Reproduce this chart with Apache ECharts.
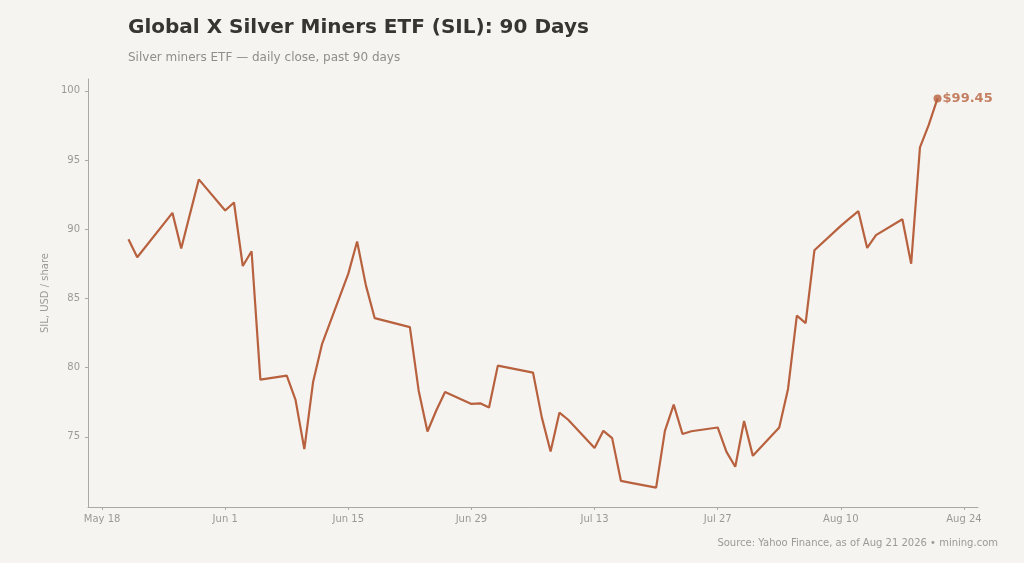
<!DOCTYPE html>
<html>
<head>
<meta charset="utf-8">
<title>SIL 90 days</title>
<script src="https://cdn.jsdelivr.net/npm/echarts@6/dist/echarts.min.js"></script>
<style>
  html, body { margin: 0; padding: 0; background: #f5f4f0; }
  #chart { width: 1024px; height: 563px; }
</style>
</head>
<body>
<div id="chart"></div>
<script>
// trading days (2026) and daily closes
var dates = [
  '2026-05-21', '2026-05-22', '2026-05-26', '2026-05-27', '2026-05-28', '2026-05-29',
  '2026-06-01', '2026-06-02', '2026-06-03', '2026-06-04', '2026-06-05',
  '2026-06-08', '2026-06-09', '2026-06-10', '2026-06-11', '2026-06-12',
  '2026-06-15', '2026-06-16', '2026-06-17', '2026-06-18',
  '2026-06-22', '2026-06-23', '2026-06-24', '2026-06-25', '2026-06-26',
  '2026-06-29', '2026-06-30', '2026-07-01', '2026-07-02',
  '2026-07-06', '2026-07-07', '2026-07-08', '2026-07-09', '2026-07-10',
  '2026-07-13', '2026-07-14', '2026-07-15', '2026-07-16', '2026-07-17',
  '2026-07-20', '2026-07-21', '2026-07-22', '2026-07-23', '2026-07-24',
  '2026-07-27', '2026-07-28', '2026-07-29', '2026-07-30', '2026-07-31',
  '2026-08-03', '2026-08-04', '2026-08-05', '2026-08-06', '2026-08-07',
  '2026-08-10', '2026-08-11', '2026-08-12', '2026-08-13', '2026-08-14',
  '2026-08-17', '2026-08-18', '2026-08-19', '2026-08-20', '2026-08-21'
];
var closes = [
  89.28, 87.97, 91.18, 88.60, 91.11, 93.60,
  91.35, 91.93, 87.34, 88.41, 79.13,
  79.42, 77.66, 74.11, 78.98, 81.67,
  86.79, 89.11, 85.94, 83.57,
  82.92, 78.33, 75.38, 76.90, 78.24,
  77.37, 77.42, 77.12, 80.14,
  79.64, 76.40, 73.94, 76.74, 76.23,
  74.18, 75.43, 74.90, 71.81, 71.69,
  71.33, 75.43, 77.32, 75.20, 75.40,
  75.67, 73.91, 72.83, 76.14, 73.62,
  75.67, 78.46, 83.75, 83.21, 88.48,
  90.24, 90.78, 91.30, 88.65, 89.57,
  90.72, 87.51, 95.92, 97.54, 99.45
];
var xTicks = ['2026-05-18', '2026-06-01', '2026-06-15', '2026-06-29', '2026-07-13', '2026-07-27', '2026-08-10', '2026-08-24'];
var yTicks = [75, 80, 85, 90, 95, 100];

var MONTHS = ['Jan', 'Feb', 'Mar', 'Apr', 'May', 'Jun', 'Jul', 'Aug', 'Sep', 'Oct', 'Nov', 'Dec'];
function ts(s) {
  var p = s.split('-');
  return Date.UTC(+p[0], +p[1] - 1, +p[2]);
}
function fmtDate(v) {
  var d = new Date(v);
  return MONTHS[d.getUTCMonth()] + ' ' + d.getUTCDate();
}

var points = dates.map(function (d, i) { return [ts(d), closes[i]]; });
var last = points[points.length - 1];

// 5% margins around the data, like the reference
var xs = points.map(function (p) { return p[0]; });
var xMin = Math.min.apply(null, xs), xMax = Math.max.apply(null, xs);
var yMin = Math.min.apply(null, closes), yMax = Math.max.apply(null, closes);
var xPad = (xMax - xMin) * 0.05, yPad = (yMax - yMin) * 0.05;

var LINE = '#b8613f';
var GREY = '#9a9a96';
var FONT = 'DejaVu Sans';

var myChart = echarts.init(document.getElementById('chart'));
var option = {
  backgroundColor: '#f5f4f0',
  animation: false,
  textStyle: { fontFamily: FONT },
  title: [
    {
      text: 'Global X Silver Miners ETF (SIL): 90 Days',
      left: 128, top: 18, padding: 0,
      textStyle: { fontFamily: FONT, fontSize: 20, fontWeight: 'bold', color: '#363532' }
    },
    {
      text: 'Silver miners ETF \u2014 daily close, past 90 days',
      left: 128, top: 52, padding: 0,
      textStyle: { fontFamily: FONT, fontSize: 12, fontWeight: 'normal', color: '#8f8e8a' }
    },
    {
      text: 'Source: Yahoo Finance, as of Aug 21 2026 \u2022 mining.com',
      right: 26, top: 538, padding: 0,
      textStyle: { fontFamily: FONT, fontSize: 10, fontWeight: 'normal', color: GREY }
    }
  ],
  grid: { left: 88, right: 46, top: 79, bottom: 56, containLabel: false },
  xAxis: {
    type: 'value',
    min: xMin - xPad,
    max: xMax + xPad,
    splitLine: { show: false },
    axisLine: { lineStyle: { color: '#aaa9a5', width: 1 } },
    axisTick: {
      show: true, length: 3,
      lineStyle: { color: '#aaa9a5' },
      customValues: xTicks.map(ts)
    },
    axisLabel: {
      color: GREY, fontSize: 10, margin: 7, fontFamily: FONT,
      customValues: xTicks.map(ts),
      formatter: fmtDate
    }
  },
  yAxis: {
    type: 'value',
    min: yMin - yPad,
    max: yMax + yPad,
    name: 'SIL, USD / share',
    nameLocation: 'middle',
    nameGap: 33,
    nameTextStyle: { color: GREY, fontSize: 10, fontFamily: FONT },
    splitLine: { show: false },
    axisLine: { show: true, lineStyle: { color: '#aaa9a5', width: 1 } },
    axisTick: { show: true, length: 3, lineStyle: { color: '#aaa9a5' }, customValues: yTicks },
    axisLabel: { color: GREY, fontSize: 10, margin: 8, fontFamily: FONT, customValues: yTicks }
  },
  series: [
    {
      name: 'SIL',
      type: 'line',
      data: points,
      showSymbol: false,
      lineStyle: { color: LINE, width: 2.2 },
      itemStyle: { color: LINE },
      z: 2
    },
    {
      name: 'last',
      type: 'scatter',
      data: [last],
      symbolSize: 8,
      itemStyle: { color: LINE },
      label: {
        show: true,
        position: 'right',
        distance: 1,
        color: LINE,
        fontFamily: FONT,
        fontWeight: 'bold',
        fontSize: 13,
        formatter: function (p) { return '$' + p.value[1].toFixed(2); }
      },
      z: 3
    }
  ]
};
myChart.setOption(option);
</script>
</body>
</html>
